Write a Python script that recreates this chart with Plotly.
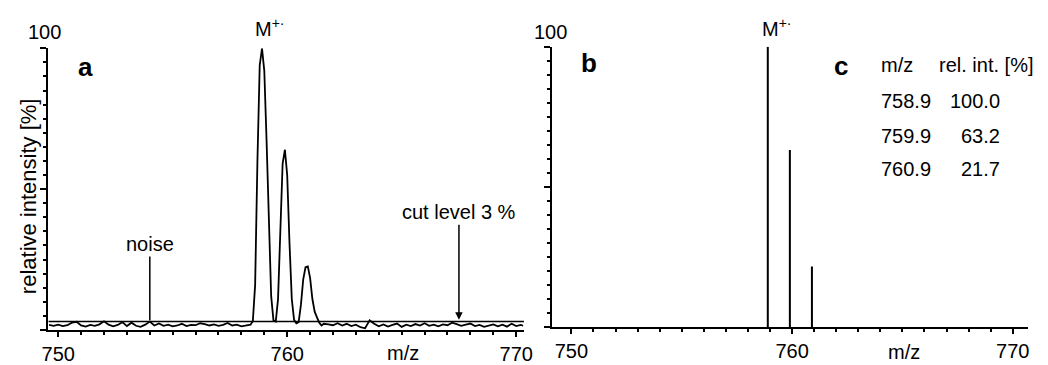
import plotly.graph_objects as go

W, H = 1048, 365

# ---------------- data ----------------
# (a) measured profile spectrum (m/z, relative intensity %)
profile_mz = [
    749.6, 749.8, 750.0, 750.2, 750.4, 750.6, 750.8, 751.0, 751.2, 751.4,
    751.6, 751.8, 752.0, 752.2, 752.4, 752.6, 752.8, 753.0, 753.2, 753.4,
    753.6, 753.8, 754.0, 754.2, 754.4, 754.6, 754.8, 755.0, 755.2, 755.4,
    755.6, 755.8, 756.0, 756.2, 756.4, 756.6, 756.8, 757.0, 757.2, 757.4,
    757.6, 757.8, 758.0, 758.2, 758.4,
    758.5, 758.6, 758.7, 758.8, 758.9, 759.0, 759.1, 759.2, 759.3, 759.4,
    759.5, 759.6, 759.7, 759.8, 759.9, 760.0, 760.1, 760.2, 760.3, 760.4,
    760.5, 760.6, 760.7, 760.8, 760.9, 761.0, 761.1, 761.2, 761.3, 761.4,
    761.5, 761.6,
    761.8, 762.0, 762.2, 762.4, 762.6, 762.8, 763.0, 763.2, 763.4, 763.6,
    763.8, 764.0, 764.2, 764.4, 764.6, 764.8, 765.0, 765.2, 765.4, 765.6,
    765.8, 766.0, 766.2, 766.4, 766.6, 766.8, 767.0, 767.2, 767.4, 767.6,
    767.8, 768.0, 768.2, 768.4, 768.6, 768.8, 769.0, 769.2, 769.4, 769.6,
    769.8, 770.0, 770.2, 770.3,
]
profile_int = [
    1.8, 1.5, 1.9, 1.4, 1.7, 2.6, 2.9, 1.6, 1.2, 1.8,
    1.5, 2.0, 3.1, 1.9, 1.3, 1.8, 2.8, 1.4, 2.6, 1.5,
    1.1, 1.9, 3.0, 1.6, 2.3, 1.5, 1.9, 1.3, 1.6, 2.2,
    1.4, 1.8, 1.7, 2.4, 2.1, 1.6, 2.0, 1.5, 1.8, 2.5,
    1.6, 1.9, 1.3, 1.7, 1.9,
    3.2, 16.0, 60.0, 94.0, 100.0, 92.0, 67.0, 35.0, 12.0, 3.4,
    3.0, 11.0, 35.0, 59.0, 64.0, 55.0, 31.0, 11.0, 3.6, 2.4,
    2.8, 9.0, 18.0, 22.3, 22.6, 18.5, 11.0, 6.5, 4.5, 2.6,
    1.6, 2.2,
    2.0, 1.7, 2.4, 1.6, 2.2, 1.4, 1.9, 1.0, 0.6, 3.4,
    2.2, 1.3, 2.0, 1.2, 1.8, 2.3, 1.1, 1.9, 1.4, 2.1,
    1.6, 2.4, 1.5, 1.9, 1.3, 2.0, 1.7, 2.6, 2.1, 1.5,
    1.9, 2.3, 1.4, 1.8, 1.1, 1.6, 2.0, 1.3, 1.9, 1.2,
    2.2, 1.4, 1.8, 1.5,
]
cut_level = 3.0          # %
noise_mark_mz = 754.0
cut_mark_mz = 767.5

# (b)/(c) line spectrum after cut
stick_mz_labels = ["758.9", "759.9", "760.9"]
stick_mz = [758.9, 759.9, 760.9]
stick_int = [100.0, 63.2, 21.7]

x_ticks = [750, 760, 770]
left_xrange = [749.57, 770.34]
right_xrange = [749.1, 770.7]

# ---------------- helpers ----------------
def px(x):
    return x / W

def py(y):
    return 1 - y / H

FONT = "Liberation Sans, Arial, Helvetica, sans-serif"
BLACK = "#000000"

fig = go.Figure()

# profile
fig.add_trace(go.Scatter(x=profile_mz, y=profile_int, mode="lines",
                         line=dict(color=BLACK, width=1.8),
                         xaxis="x", yaxis="y", hoverinfo="skip"))
# cut level line
fig.add_trace(go.Scatter(x=left_xrange, y=[cut_level, cut_level], mode="lines",
                         line=dict(color=BLACK, width=1.5),
                         xaxis="x", yaxis="y", hoverinfo="skip"))
# sticks
sx, sy = [], []
for m, v in zip(stick_mz, stick_int):
    sx += [m, m, None]
    sy += [0, v, None]
fig.add_trace(go.Scatter(x=sx, y=sy, mode="lines",
                         line=dict(color=BLACK, width=2),
                         xaxis="x2", yaxis="y2", hoverinfo="skip"))

def xaxis_def(domain, rng, anchor):
    return dict(domain=domain, range=rng, anchor=anchor,
                showline=True, linecolor=BLACK, linewidth=2,
                showgrid=False, zeroline=False,
                tickmode="array", tickvals=x_ticks,
                ticks="outside", ticklen=5, tickwidth=1.5, tickcolor=BLACK,
                minor=dict(dtick=1, tick0=750, ticks="outside", ticklen=3,
                           tickwidth=1.5, tickcolor=BLACK, showgrid=False),
                tickfont=dict(family=FONT, size=20, color=BLACK))

def yaxis_def(domain, anchor):
    return dict(domain=domain, range=[0, 100], anchor=anchor,
                showline=True, linecolor=BLACK, linewidth=2,
                showgrid=False, zeroline=False,
                tickmode="array", tickvals=[0, 50, 100], showticklabels=False,
                ticks="outside", ticklen=6, tickwidth=1.5, tickcolor=BLACK,
                minor=dict(dtick=5, tick0=0, ticks="outside", ticklen=3,
                           tickwidth=1.5, tickcolor=BLACK, showgrid=False))

fig.update_layout(
    width=W, height=H,
    margin=dict(l=0, r=0, t=0, b=0),
    paper_bgcolor="white", plot_bgcolor="white",
    showlegend=False,
    font=dict(family=FONT, size=20, color=BLACK),
    xaxis=xaxis_def([px(42), px(525)], left_xrange, "y"),
    yaxis=yaxis_def([py(330), py(48.3)], "x"),
    xaxis2=xaxis_def([px(553), px(1037)], right_xrange, "y2"),
    yaxis2=yaxis_def([py(327.3), py(46.7)], "x2"),
)

ann = []

def paper_text(text, x, y, size=20, xanchor="center", yanchor="middle", bold=False, angle=0):
    t = f"<b>{text}</b>" if bold else text
    ann.append(dict(text=t, x=px(x), y=py(y), xref="paper", yref="paper",
                    xanchor=xanchor, yanchor=yanchor, showarrow=False,
                    textangle=angle,
                    font=dict(family=FONT, size=size, color=BLACK)))

paper_text("100", 38.5, 32)
paper_text("100", 551.5, 32)
paper_text("a", 79.7, 67, size=26, bold=True)
paper_text("b", 591.5, 63, size=26, bold=True)
paper_text("c", 846.5, 65.5, size=26, bold=True)
paper_text("M<sup>+·</sup>", 250, 27, xanchor="left")
paper_text("M<sup>+·</sup>", 765, 27, xanchor="left")
paper_text("relative intensity [%]", 21.5, 196, size=22, angle=-90)
paper_text("m/z", 402, 353)
paper_text("m/z", 911, 352)

# table (c)
paper_text("m/z", 886, 65, xanchor="left")
paper_text("rel. int. [%]", 944, 65, xanchor="left")
for lab, v, yy in zip(stick_mz_labels, stick_int, [101, 136, 169]):
    paper_text(lab, 886, yy, xanchor="left")
    paper_text(f"{v:.1f}", 1010, yy, xanchor="right")

# noise / cut level pointers (data coordinates)
ann.append(dict(text="noise", x=noise_mark_mz, y=3.5, ax=noise_mark_mz, ay=30.5,
                xref="x", yref="y", axref="x", ayref="y",
                showarrow=True, arrowhead=0, arrowwidth=1.5, arrowcolor=BLACK,
                font=dict(family=FONT, size=20, color=BLACK)))
ann.append(dict(text="cut level 3 %", x=cut_mark_mz, y=3.6, ax=cut_mark_mz, ay=41.8,
                xref="x", yref="y", axref="x", ayref="y",
                showarrow=True, arrowhead=2, arrowsize=1, arrowwidth=1.5,
                arrowcolor=BLACK,
                font=dict(family=FONT, size=20, color=BLACK)))

fig.update_layout(annotations=ann)

fig.write_html("out.html")
